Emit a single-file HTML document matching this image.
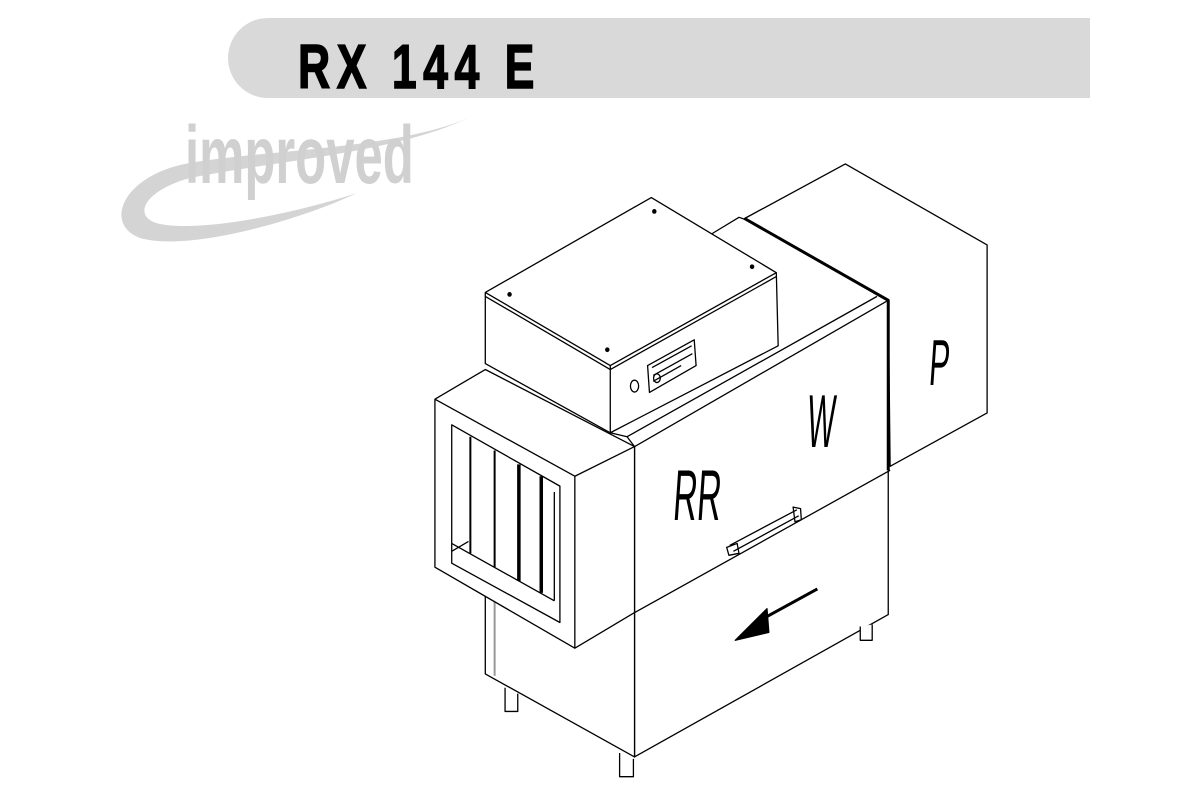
<!DOCTYPE html>
<html><head><meta charset="utf-8"><style>
html,body{margin:0;padding:0;background:#fff;width:1200px;height:800px;overflow:hidden}
svg{display:block}
</style></head><body>
<svg width="1200" height="800" viewBox="0 0 1200 800" xmlns="http://www.w3.org/2000/svg">
<path d="M268,18 H1090 V98 H268 A40,40 0 0 1 268,18 Z" fill="#d9d9d9"/>
<text x="298" y="88" font-family="Liberation Sans, sans-serif" font-weight="bold" font-size="62" fill="#000" stroke="#000" stroke-width="1.5" transform="translate(298,0) scale(0.72,1) translate(-298,0)" letter-spacing="9">RX 144 E</text>
<path d="M470,117 C400,150 250,150 180,165 C120,180 105,225 140,238 C190,252 300,220 357,193 C290,215 200,232 160,224 C130,217 145,190 190,178 C280,160 400,152 470,117 Z" fill="#d4d4d4"/>
<text x="185" y="183" font-family="Liberation Sans, sans-serif" font-weight="bold" font-size="82" fill="#d0d0d0" transform="translate(185,0) scale(0.62,1) translate(-185,0)">improved</text>

<g transform="translate(420,160) scale(0.3731,0.3953)" fill="none" stroke="#000" stroke-width="1.3" stroke-linejoin="round">
<path vector-effect="non-scaling-stroke" fill="#fff" d="M870,148 L1140,10 L1520,215 V640 L1260,775 L1255,355 Z"/>
<path vector-effect="non-scaling-stroke" fill="#fff" d="M785,185 L855,145 L870,150 L1255,355 V1150 L575,1510 L575,725 L555,700 L510,690 Z"/>
<path vector-effect="non-scaling-stroke" d="M555,700 L1225,345 M575,725 L1255,355 M575,1145 L1260,785"/>
<path vector-effect="non-scaling-stroke" stroke-width="3" d="M870,148 L1255,355 V785"/>
<path vector-effect="non-scaling-stroke" fill="#fff" d="M175,335 L620,95 L955,285 L960,470 L510,690 L175,515 Z"/>
<path vector-effect="non-scaling-stroke" d="M175,335 L510,520 L955,285 M175,345 L510,530 L955,295 M510,520 V690"/>
<path vector-effect="non-scaling-stroke" d="M610,520 L735,455 L740,520 L615,588 Z M622,525 L728,470 M625,545 L730,490 M625,560 L700,520"/>
<ellipse vector-effect="non-scaling-stroke" cx="575" cy="572" rx="11" ry="15"/>
<ellipse vector-effect="non-scaling-stroke" cx="635" cy="552" rx="9" ry="11"/>
<path vector-effect="non-scaling-stroke" fill="#fff" d="M175,1100 V1300 L575,1510 V1145 Z"/>
<path vector-effect="non-scaling-stroke" stroke="#999" stroke-width="2" d="M200,1110 V1305"/>
<path vector-effect="non-scaling-stroke" fill="#fff" d="M40,605 L175,530 L575,725 V1145 L415,1235 L40,1030 Z"/>
<path vector-effect="non-scaling-stroke" d="M40,605 L415,800 V1235 M415,800 L575,725"/>
<path vector-effect="non-scaling-stroke" d="M85,670 L375,825 V1170 L85,1020 Z M85,970 L360,1115 M360,840 V1115 M85,990 L130,965"/>
<path vector-effect="non-scaling-stroke" stroke-width="2" d="M135,700 V995 M200,735 V1030"/>
<path vector-effect="non-scaling-stroke" stroke-width="3.5" d="M265,770 V1065 M325,800 V1095"/>
<path vector-effect="non-scaling-stroke" d="M830,975 L1010,885 M840,990 L1015,900 M822,980 L850,970 L855,995 L828,1000 Z M1000,878 L1020,882 L1022,910 L1005,915 Z"/>
<path vector-effect="non-scaling-stroke" stroke-width="3" d="M1065,1085 L920,1160"/>
<path vector-effect="non-scaling-stroke" fill="#000" d="M845,1215 L930,1135 L935,1195 Z"/>
<g fill="#000" stroke="none"><circle cx="240" cy="340" r="6"/><circle cx="628" cy="130" r="6"/><circle cx="890" cy="270" r="6"/><circle cx="502" cy="480" r="6"/></g>
<path vector-effect="non-scaling-stroke" fill="#fff" d="M228,1335 V1395 H262 V1350 M535,1500 V1560 H572 V1515 M1180,1180 V1215 H1212 V1175"/>
</g>
<g font-family="Liberation Sans, sans-serif" fill="#000">
<text x="672" y="520" font-size="72" transform="translate(672,520) skewX(-4) scale(0.46,1) translate(-672,-520)">RR</text>
<text x="806" y="447" font-size="75" transform="translate(806,447) skewX(-4) scale(0.39,1) translate(-806,-447)">W</text>
<text x="928" y="385" font-size="65" transform="translate(928,385) skewX(-4) scale(0.47,1) translate(-928,-385)">P</text>
</g>
</svg>
</body></html>
